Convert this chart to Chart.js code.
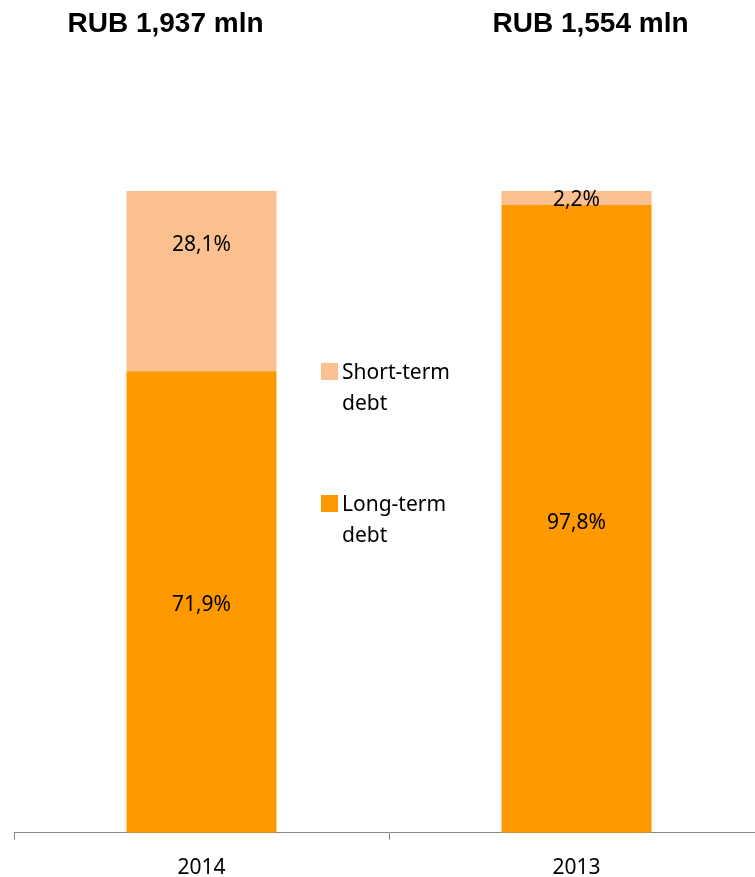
<!DOCTYPE html>
<html>
<head>
<meta charset="utf-8">
<script src="https://cdn.jsdelivr.net/npm/chart.js@4/dist/chart.umd.min.js"></script>
<style>
  html, body { margin: 0; padding: 0; background: #fff; overflow: hidden; }
  #wrap { position: relative; width: 755px; height: 877px; overflow: hidden; }
  #c { position: absolute; left: 0; top: 0; }
  .ttl { position: absolute; top: 7px; font: bold 28px "Liberation Sans", Arial, sans-serif; color: #000;
         white-space: nowrap; transform: translateX(-50%); }
  #legend { position: absolute; left: 321px; top: 356px; font: 21px "Noto Sans", sans-serif; color: #000; }
  .li { position: relative; padding-left: 21px; line-height: 31px; width: 140px; margin-bottom: 70px; }
  .li span.box { position: absolute; left: 0; top: 7px; width: 17px; height: 17px; }
</style>
</head>
<body>
<div id="wrap">
  <canvas id="c" width="770" height="897"></canvas>
  <div class="ttl" id="t0"></div>
  <div class="ttl" id="t1"></div>
  <div id="legend"></div>
</div>
<script>
var years = ["2014", "2013"];
var totals = ["RUB 1,937 mln", "RUB 1,554 mln"];
var longTerm = [71.9, 97.8];
var shortTerm = [28.1, 2.2];
var seriesNames = ["Long-term debt", "Short-term debt"];
var seriesColors = ["#FF9900", "#FAC090"];

// value labels inside each segment (nudge = small manual shifts like in the original)
var pctLabels = {
    id: "pctLabels",
    afterDatasetsDraw: function (chart, args, opts) {
        var ctx = chart.ctx;
        ctx.save();
        ctx.font = '21px "Noto Sans", sans-serif';
        ctx.fillStyle = "#000";
        ctx.textAlign = "center";
        ctx.textBaseline = "middle";
        chart.data.datasets.forEach(function (ds, i) {
            var meta = chart.getDatasetMeta(i);
            meta.data.forEach(function (bar, j) {
                var v = ds.data[j];
                var y = (bar.y + bar.base) / 2 + opts.nudge[i][j];
                ctx.fillText(v.toFixed(1).replace(".", ",") + "%", bar.x, y);
            });
        });
        ctx.restore();
    }
};

var ctx = document.getElementById("c");
var myChart = new Chart(ctx, {
    type: "bar",
    data: {
        labels: years,
        datasets: [
            { label: seriesNames[0], data: longTerm, backgroundColor: seriesColors[0], barPercentage: 0.4, categoryPercentage: 1 },
            { label: seriesNames[1], data: shortTerm, backgroundColor: seriesColors[1], barPercentage: 0.4, categoryPercentage: 1 }
        ]
    },
    options: {
        responsive: false,
        animation: false,
        layout: { padding: { left: 14, right: 6, top: 191, bottom: 0 } },
        plugins: {
            legend: { display: false },
            tooltip: { enabled: false },
            pctLabels: { nudge: [[3, 4], [-36, 2]] }
        },
        scales: {
            x: {
                stacked: true,
                border: { color: "#888", width: 1 },
                grid: { drawOnChartArea: false, drawTicks: true, tickLength: 7, color: "#888", offset: true },
                ticks: { color: "#000", font: { family: "Noto Sans", size: 21 }, padding: 16 }
            },
            y: {
                stacked: true,
                display: false,
                min: 0,
                max: 100
            }
        }
    },
    plugins: [pctLabels]
});

// titles over each bar
var xs = myChart.scales.x;
[-36, 14].forEach(function (off, i) {
    var el = document.getElementById("t" + i);
    el.textContent = totals[i];
    el.style.left = (xs.getPixelForValue(i) + off) + "px";
});

// legend, top item first
var lg = document.getElementById("legend");
[1, 0].forEach(function (i) {
    var d = document.createElement("div");
    d.className = "li";
    d.innerHTML = '<span class="box" style="background:' + seriesColors[i] + '"></span>' + seriesNames[i].replace(" ", "<br>");
    lg.appendChild(d);
});
</script>
</body>
</html>
